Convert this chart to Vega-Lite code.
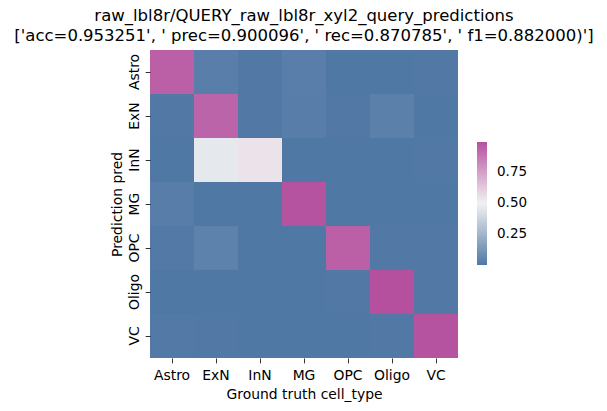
{
  "$schema": "https://vega.github.io/schema/vega-lite/v6.json",
  "width": 308,
  "height": 308,
  "autosize": {"type": "none"},
  "padding": {"left": 150, "top": 50, "right": 149, "bottom": 53},
  "background": "white",
  "title": {
    "text": ["\u2002\u2002\u2002\u2002\u2002\u2002\u2002raw_lbl8r/QUERY_raw_lbl8r_xyl2_query_predictions", "['acc=0.953251', '  prec=0.900096', ' rec=0.870785', ' f1=0.882000)']"],
    "font": "DejaVu Sans",
    "fontSize": 16.5,
    "fontWeight": "normal",
    "color": "black",
    "anchor": "middle",
    "lineHeight": 19.5,
    "offset": 6
  },
  "data": {
    "values": [
      {"pred": "Astro", "truth": "Astro", "v": 0.94},
      {"pred": "Astro", "truth": "ExN", "v": 0.025},
      {"pred": "Astro", "truth": "InN", "v": 0.005},
      {"pred": "Astro", "truth": "MG", "v": 0.025},
      {"pred": "Astro", "truth": "OPC", "v": 0.0},
      {"pred": "Astro", "truth": "Oligo", "v": 0.0},
      {"pred": "Astro", "truth": "VC", "v": 0.005},
      {"pred": "ExN", "truth": "Astro", "v": 0.005},
      {"pred": "ExN", "truth": "ExN", "v": 0.93},
      {"pred": "ExN", "truth": "InN", "v": 0.005},
      {"pred": "ExN", "truth": "MG", "v": 0.02},
      {"pred": "ExN", "truth": "OPC", "v": 0.005},
      {"pred": "ExN", "truth": "Oligo", "v": 0.035},
      {"pred": "ExN", "truth": "VC", "v": 0.0},
      {"pred": "InN", "truth": "Astro", "v": 0.0},
      {"pred": "InN", "truth": "ExN", "v": 0.455},
      {"pred": "InN", "truth": "InN", "v": 0.54},
      {"pred": "InN", "truth": "MG", "v": 0.0},
      {"pred": "InN", "truth": "OPC", "v": 0.0},
      {"pred": "InN", "truth": "Oligo", "v": 0.0},
      {"pred": "InN", "truth": "VC", "v": 0.005},
      {"pred": "MG", "truth": "Astro", "v": 0.02},
      {"pred": "MG", "truth": "ExN", "v": 0.0},
      {"pred": "MG", "truth": "InN", "v": 0.0},
      {"pred": "MG", "truth": "MG", "v": 0.98},
      {"pred": "MG", "truth": "OPC", "v": 0.0},
      {"pred": "MG", "truth": "Oligo", "v": 0.0},
      {"pred": "MG", "truth": "VC", "v": 0.0},
      {"pred": "OPC", "truth": "Astro", "v": 0.01},
      {"pred": "OPC", "truth": "ExN", "v": 0.04},
      {"pred": "OPC", "truth": "InN", "v": 0.0},
      {"pred": "OPC", "truth": "MG", "v": 0.0},
      {"pred": "OPC", "truth": "OPC", "v": 0.94},
      {"pred": "OPC", "truth": "Oligo", "v": 0.005},
      {"pred": "OPC", "truth": "VC", "v": 0.005},
      {"pred": "Oligo", "truth": "Astro", "v": 0.0},
      {"pred": "Oligo", "truth": "ExN", "v": 0.0},
      {"pred": "Oligo", "truth": "InN", "v": 0.0},
      {"pred": "Oligo", "truth": "MG", "v": 0.0},
      {"pred": "Oligo", "truth": "OPC", "v": 0.005},
      {"pred": "Oligo", "truth": "Oligo", "v": 0.99},
      {"pred": "Oligo", "truth": "VC", "v": 0.005},
      {"pred": "VC", "truth": "Astro", "v": 0.01},
      {"pred": "VC", "truth": "ExN", "v": 0.005},
      {"pred": "VC", "truth": "InN", "v": 0.0},
      {"pred": "VC", "truth": "MG", "v": 0.0},
      {"pred": "VC", "truth": "OPC", "v": 0.0},
      {"pred": "VC", "truth": "Oligo", "v": 0.005},
      {"pred": "VC", "truth": "VC", "v": 0.98}
    ]
  },
  "mark": {"type": "rect", "strokeWidth": 0},
  "encoding": {
    "x": {
      "field": "truth",
      "type": "nominal",
      "sort": ["Astro", "ExN", "InN", "MG", "OPC", "Oligo", "VC"],
      "scale": {"paddingInner": 0, "paddingOuter": 0},
      "title": "Ground truth cell_type",
      "axis": {"labelAngle": 0, "labelBaseline": "top", "labelPadding": 6, "titlePadding": 4.5}
    },
    "y": {
      "field": "pred",
      "type": "nominal",
      "sort": ["Astro", "ExN", "InN", "MG", "OPC", "Oligo", "VC"],
      "scale": {"paddingInner": 0, "paddingOuter": 0},
      "title": "Prediction pred",
      "axis": {"labelAngle": -90, "labelAlign": "center", "labelBaseline": "bottom", "labelPadding": 4, "titlePadding": 3}
    },
    "color": {
      "field": "v",
      "type": "quantitative",
      "scale": {
        "domain": [0, 0.495, 0.99],
        "range": ["#5078a5", "#f2f2f2", "#b5509f"],
        "interpolate": "rgb"
      },
      "legend": {
        "title": null,
        "orient": "none",
        "legendX": 327,
        "legendY": 92,
        "direction": "vertical",
        "gradientLength": 123,
        "gradientThickness": 10,
        "gradientStrokeWidth": 0,
        "values": [0.25, 0.5, 0.75],
        "format": ".2f",
        "labelFont": "DejaVu Sans",
        "labelFontSize": 13.5,
        "labelColor": "black",
        "labelOffset": 10
      }
    }
  },
  "config": {
    "view": {"stroke": null},
    "axis": {
      "domain": false,
      "grid": false,
      "ticks": true,
      "tickColor": "black",
      "tickSize": 4.9,
      "tickWidth": 0.8,
      "labelFont": "DejaVu Sans",
      "labelFontSize": 13.9,
      "labelColor": "black",
      "titleFont": "DejaVu Sans",
      "titleFontSize": 13.9,
      "titleFontWeight": "normal",
      "titleColor": "black"
    }
  }
}
